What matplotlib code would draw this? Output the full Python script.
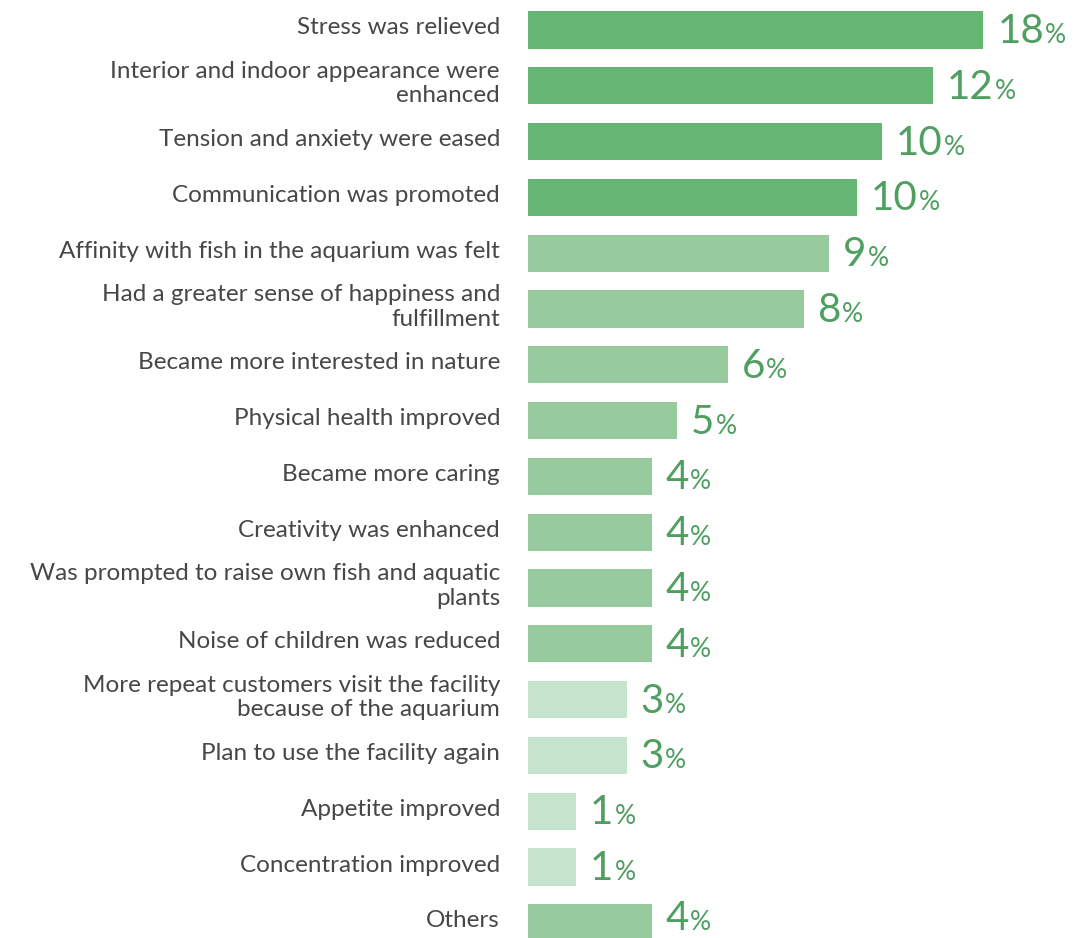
import matplotlib.pyplot as plt

categories = [
    "Stress was relieved",
    "Interior and indoor appearance were\nenhanced",
    "Tension and anxiety were eased",
    "Communication was promoted",
    "Affinity with fish in the aquarium was felt",
    "Had a greater sense of happiness and\nfulfillment",
    "Became more interested in nature",
    "Physical health improved",
    "Became more caring",
    "Creativity was enhanced",
    "Was prompted to raise own fish and aquatic\nplants",
    "Noise of children was reduced",
    "More repeat customers visit the facility\nbecause of the aquarium",
    "Plan to use the facility again",
    "Appetite improved",
    "Concentration improved",
    "Others",
]
# percentages printed next to the bars
pct_labels = [18, 12, 10, 10, 9, 8, 6, 5, 4, 4, 4, 4, 3, 3, 1, 1, 4]
# bar lengths as drawn in the original (not strictly proportional to the labels)
bar_lengths = [18.0, 16.0, 14.0, 13.0, 11.9, 10.9, 7.9, 5.9, 4.9, 4.9, 4.9, 4.9, 3.9, 3.9, 1.9, 1.9, 4.9]
shade = ["dark"] * 4 + ["mid"] * 8 + ["light"] * 4 + ["mid"]

colors = {"dark": "#65b673", "mid": "#97cb9d", "light": "#c6e3cd"}
text_green = "#4e9f60"

W, H = 1089, 938
fig = plt.figure(figsize=(W / 100, H / 100), dpi=100)
x0 = 528
ax = fig.add_axes([x0 / W, 0, 1 - x0 / W, 1])

px_per_unit = 25.3
step = 55.8
y_first = 30
ax.set_xlim(0, (W - x0) / px_per_unit)
ax.set_ylim((H - y_first) / step, -y_first / step)
ax.axis("off")

n = len(categories)
ys = list(range(n))
ax.barh(ys, bar_lengths, height=0.67, color=[colors[s] for s in shade], linewidth=0)

fig.canvas.draw()
renderer = fig.canvas.get_renderer()
for y, cat, val, ln in zip(ys, categories, pct_labels, bar_lengths):
    ax.annotate(cat, xy=(0, y), xytext=(-28, 2), textcoords="offset pixels",
                ha="right", va="center", fontsize=17.5, color="#474747",
                family="Lato", linespacing=1.2)
    # last row sits against the bottom edge, nudge its label up a little
    dy = -13 if y < n - 1 else -7
    t = ax.annotate(str(val), xy=(ln, y), xytext=(14, dy), textcoords="offset pixels",
                    ha="left", va="baseline", fontsize=29, color=text_green,
                    family="Lato")
    w = t.get_window_extent(renderer).width
    ax.annotate("%", xy=(ln, y), xytext=(14 + w + 1, dy), textcoords="offset pixels",
                ha="left", va="baseline", fontsize=19, color=text_green,
                family="Lato")

fig.savefig("out.png", dpi=100)
